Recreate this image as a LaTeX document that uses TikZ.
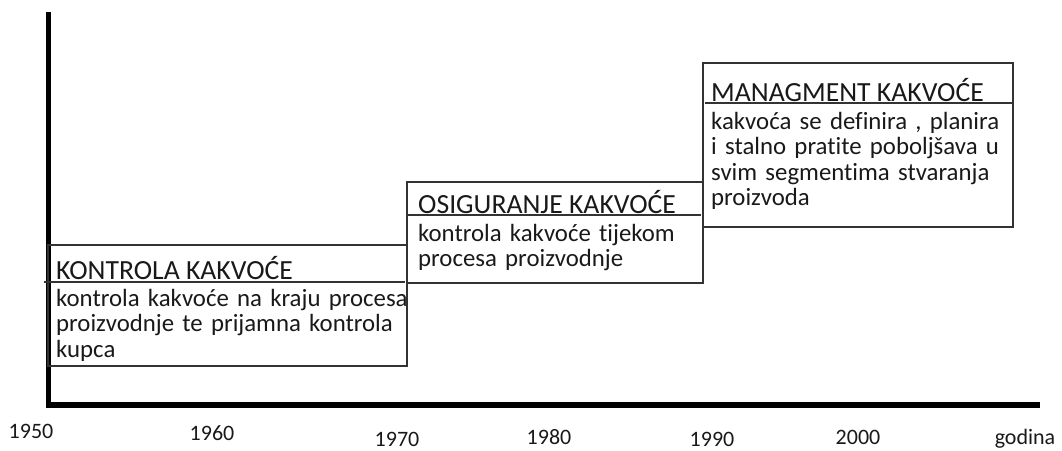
\documentclass[tikz,border=0pt]{standalone}
\usepackage{fontspec}
\setmainfont{Carlito}[RawFeature=-liga]
\usetikzlibrary{positioning}

\begin{document}
\begin{tikzpicture}[x=1pt,y=-1pt,
  box/.style={draw=black!80, line width=1.4pt},
  axisline/.style={line width=5.5pt},
  head/.style={anchor=base west, inner sep=0pt, text=black!90, font=\fontsize{27.7}{30}\selectfont},
  body/.style={anchor=base west, inner sep=0pt, align=left, text width=420pt, text=black!90, font=\fontsize{24.8}{25.5}\selectfont},
  year/.style={anchor=base, inner sep=0pt, text=black!90, font=\fontsize{22}{24}\selectfont}]

\useasboundingbox (0,0) rectangle (1062,450);

% axes
\coordinate (Origin) at (48.5,405);
\draw[axisline] (48.5,12) -- (Origin) -- (1040,405);

% steps
\draw[box] (48,245) rectangle (407,366);
\draw[box] (407,182) rectangle (703,283);
\draw[box] (703,63) rectangle (1013,227);

% headings and their lines
\node[head] (kontrola) at (56,279) {KONTROLA KAKVOĆE};
\draw[box] (44,282) -- (405,282);
\node[head] (osiguranje) at (418,213) {OSIGURANJE KAKVOĆE};
\draw[box] (407,215) -- (701,215);
\node[head] (managment) at (711,101.5) {MANAGMENT KAKVOĆE};
\draw[box] (705,103) -- (1012,103);

% texts
\node[body] (kontrolatxt) at (56,306) {kontrola kakvoće na kraju procesa\\proizvodnje te prijamna kontrola\\kupca};
\node[body] (osiguranjetxt) at (418,241) {kontrola kakvoće tijekom\\procesa proizvodnje};
\node[body] (managmenttxt) at (711,129) {kakvoća se definira , planira\\i stalno pratite poboljšava u\\svim segmentima stvaranja\\proizvoda};

% years
\foreach \yr/\px/\py in {1950/31/438, 1960/212/440.5, 1970/397/446, 1980/549/444, 1990/712/446, 2000/858/444}
  \node[year] (y\yr) at (\px,\py) {\yr};
\node[year] (godina) at (1025,444.5) {godina};

\end{tikzpicture}
\end{document}
